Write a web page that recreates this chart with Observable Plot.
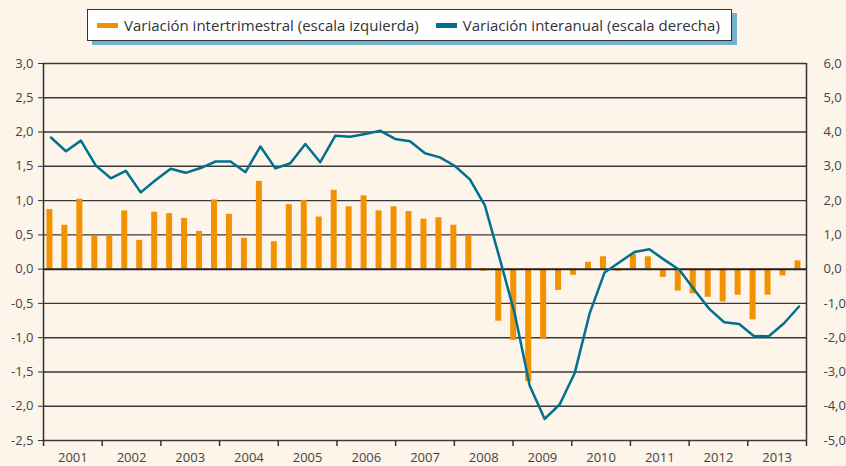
<!DOCTYPE html>
<html>
<head>
<meta charset="utf-8">
<script src="https://cdn.jsdelivr.net/npm/d3@7"></script>
<script src="https://cdn.jsdelivr.net/npm/@observablehq/plot@0.6"></script>
<style>
  html, body { margin: 0; padding: 0; background: #fdf4ea; }
  #wrap { position: relative; width: 846px; height: 466px; background: #fdf4ea; font-family: "Open Sans", "DejaVu Sans", sans-serif; }
  #legend { position: relative; height: 48px; }
  #legbox { position: absolute; left: 87px; top: 9px; width: 643px; height: 30px; background: #fff; border: 1px solid #333; box-shadow: 5px 4px 0 #74b2cc; display: flex; align-items: center; font-size: 15px; color: #333; white-space: nowrap; }
  .sw { display: inline-block; width: 21px; height: 5px; margin: 0 6px 0 9px; }
  .item { display: inline-flex; align-items: center; }
</style>
</head>
<body>
<div id="wrap">
  <div id="legend"><div id="legbox"></div></div>
  <div id="chart"></div>
</div>
<script>
const years = [2001, 2002, 2003, 2004, 2005, 2006, 2007, 2008, 2009, 2010, 2011, 2012, 2013];
const quarters = ["I", "II", "III", "IV"];
// Variación intertrimestral (escala izquierda), 2001-I to 2013-III
const intertrimestral = [
  0.87, 0.64, 1.02, 0.48,
  0.49, 0.85, 0.42, 0.83,
  0.81, 0.74, 0.55, 1.01,
  0.80, 0.45, 1.28, 0.40,
  0.94, 1.00, 0.76, 1.15,
  0.91, 1.07, 0.85, 0.91,
  0.84, 0.73, 0.75, 0.64,
  0.48, -0.03, -0.76, -1.04,
  -1.64, -1.02, -0.31, -0.09,
  0.10, 0.18, -0.03, 0.22,
  0.18, -0.12, -0.32, -0.36,
  -0.41, -0.48, -0.38, -0.74,
  -0.38, -0.10, 0.12
];
// Variación interanual (escala derecha)
const interanual = [
  3.84, 3.44, 3.75, 3.02,
  2.65, 2.87, 2.24, 2.60,
  2.93, 2.81, 2.95, 3.14,
  3.14, 2.83, 3.58, 2.94,
  3.09, 3.65, 3.12, 3.89,
  3.86, 3.94, 4.04, 3.80,
  3.73, 3.38, 3.26, 3.01,
  2.62, 1.86, 0.30, -1.30,
  -3.40, -4.37, -3.95, -3.04,
  -1.30, -0.10, 0.20, 0.50,
  0.58, 0.27, -0.02, -0.60,
  -1.16, -1.55, -1.60, -1.96,
  -1.95, -1.58, -1.09
];
const leftTicks = [-2.5, -2.0, -1.5, -1.0, -0.5, 0.0, 0.5, 1.0, 1.5, 2.0, 2.5, 3.0];
const legendLabels = ["Variación intertrimestral (escala izquierda)", "Variación interanual (escala derecha)"];
const colors = ["#f39200", "#00708f"];

const fmt = v => v.toFixed(1).replace(".", ",").replace("-0,0", "0,0");

const data = intertrimestral.map((v, i) => ({
  i,
  label: years[Math.floor(i / 4)] + "-" + quarters[i % 4],
  inter: v,
  anual: interanual[i]
}));
const n = data.length;
const yearSpan = n / years.length; // year axis is divided evenly over the category range
const yearBounds = d3.range(years.length + 1).map(k => k * yearSpan);
const yearCenters = years.map((y, k) => (k + 0.5) * yearSpan);

// Legend
const legbox = document.getElementById("legbox");
legendLabels.forEach((t, k) => {
  const it = document.createElement("span");
  it.className = "item";
  if (k === 1) it.style.marginLeft = "8px";
  it.innerHTML = `<span class="sw" style="background:${colors[k]}"></span><span>${t}</span>`;
  legbox.appendChild(it);
});

const font = `"Open Sans", "DejaVu Sans", sans-serif`;
const chart = Plot.plot({
  width: 846,
  height: 418,
  marginTop: 15,
  marginBottom: 26,
  marginLeft: 43,
  marginRight: 40,
  style: { background: "transparent", fontFamily: font, fontSize: "13px", color: "#444", overflow: "visible" },
  x: { type: "linear", domain: [0, n], axis: null },
  y: { domain: [-2.5, 3.0], axis: null },
  marks: [
    Plot.ruleY(leftTicks.filter(t => t !== 0), { stroke: "#3a3a3a", strokeWidth: 1.4 }),
    Plot.rectY(data, { x1: d => d.i + 0.23, x2: d => d.i + 0.63, y: "inter", fill: colors[0] }),
    Plot.ruleY([0], { stroke: "#222", strokeWidth: 2 }),
    Plot.ruleX([0, n], { stroke: "#333", strokeWidth: 1.5 }),
    Plot.lineY(data, { x: d => d.i + 0.5, y: d => d.anual / 2, stroke: colors[1], strokeWidth: 2.5, strokeLinejoin: "round" }),
    Plot.axisY({ anchor: "left", ticks: leftTicks, tickFormat: fmt, tickSize: 5, tickPadding: 5, stroke: "#333", fill: "#444", fontSize: 13, label: null }),
    Plot.axisY({ anchor: "right", ticks: leftTicks, tickFormat: d => fmt(d * 2), tickSize: 0, tickPadding: 17, textAnchor: "start", fill: "#444", fontSize: 13, label: null }),
    Plot.axisX({ anchor: "bottom", ticks: yearBounds, tickFormat: () => "", tickSize: 6, stroke: "#333", strokeWidth: 1.5, label: null }),
    Plot.axisX({ anchor: "bottom", ticks: yearCenters, tickFormat: (d, k) => String(years[k]), tickSize: 0, tickPadding: 12, fill: "#444", fontSize: 13, label: null })
  ]
});
document.getElementById("chart").appendChild(chart);
</script>
</body>
</html>
